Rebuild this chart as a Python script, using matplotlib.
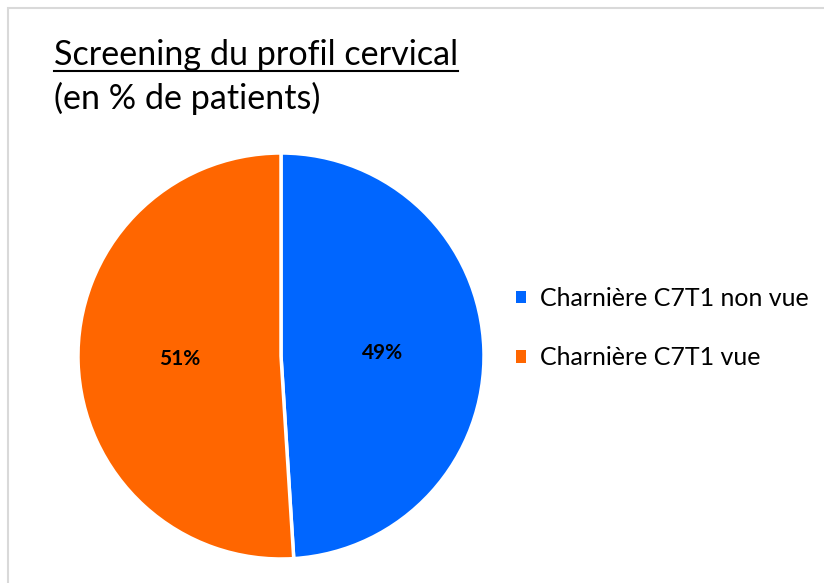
import matplotlib
matplotlib.use("Agg")
import matplotlib.pyplot as plt
from matplotlib.patches import Rectangle, Patch
from matplotlib.lines import Line2D

plt.rcParams['font.family'] = ['Lato', 'DejaVu Sans']

# data
categories = ["Charnière C7T1 non vue", "Charnière C7T1 vue"]
values = [49, 51]
colors = ["#0066FF", "#FF6600"]

W, H = 824, 583
fig = plt.figure(figsize=(W / 100, H / 100), dpi=100)

# light grey chart border (top and left visible)
fig.patches.append(Rectangle((8 / W, -0.1), 1.2, (H - 8) / H + 0.1,
                             transform=fig.transFigure, fill=False,
                             edgecolor="#d9d9d9", lw=1.5))

# pie area
cx, cy, r = 281, H - 356, 203
ax = fig.add_axes([(cx - r) / W, (cy - r) / H, 2 * r / W, 2 * r / H])
wedges, texts, autotexts = ax.pie(values, colors=colors, startangle=90,
                                  counterclock=False, autopct="%1.0f%%",
                                  pctdistance=0.5,
                                  wedgeprops=dict(edgecolor="white", linewidth=2.5),
                                  textprops=dict(fontsize=15, fontweight="bold",
                                                 color="black"))
ax.set_xlim(-1, 1)
ax.set_ylim(-1, 1)
ax.set_aspect("equal")
ax.axis("off")

# title
t1 = fig.text(54 / W, 1 - 39 / H, "Screening du profil cervical",
              fontsize=24.6, va="top", ha="left", color="black")
fig.text(54 / W, 1 - 82 / H, "(en % de patients)",
         fontsize=24.6, va="top", ha="left", color="black")
fig.canvas.draw()
bb = t1.get_window_extent().transformed(fig.transFigure.inverted())
fig.add_artist(Line2D([bb.x0, bb.x1], [1 - 71 / H, 1 - 71 / H],
                      transform=fig.transFigure, color="black", lw=1.5))

# legend
handles = [Patch(facecolor=c, edgecolor="none") for c in colors]
fig.legend(handles, categories, loc="center left",
           bbox_to_anchor=(516 / W, 1 - 328 / H), frameon=False,
           fontsize=18, handlelength=0.4, handleheight=0.4,
           handletextpad=0.55, labelspacing=1.45, borderpad=0,
           borderaxespad=0)

fig.savefig("out.png", dpi=100, facecolor="white")
